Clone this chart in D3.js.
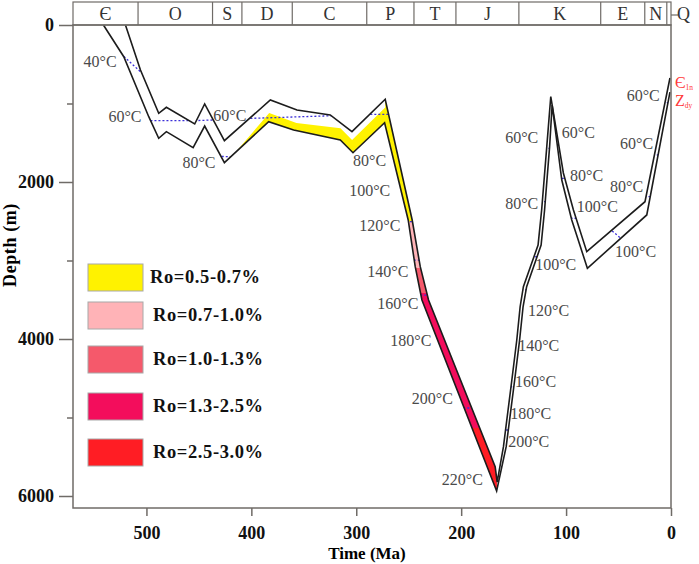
<!DOCTYPE html>
<html>
<head>
<meta charset="utf-8">
<script src="https://cdn.jsdelivr.net/npm/d3@7"></script>
<style>
body { margin: 0; background: #fff; }
text { font-family: "Liberation Serif", "Times New Roman", serif; }
</style>
</head>
<body>
<svg id="chart" width="699" height="564"></svg>
<script>
// geologic periods (Ma)
const periods = ["Є", "O", "S", "D", "C", "P", "T", "J", "K", "E", "N"];
const periodBounds = [570, 508, 437, 409, 361, 290, 245, 205, 145, 67, 25, 4, 0];

// burial history: top of Є1n (lineA) and top of Zdy (lineB), [Ma, m]
const lineA = [[520,0],[505.7,573],[488.3,1125],[481,1048],[454,1261],[444.5,1006],[425.7,1474],
  [381.9,955],[356.5,1083],[324.8,1146],[304.1,1359],[272.4,946],[246.7,2484],[239,3079],
  [231.1,3503],[167.6,5627],[165.7,5822],
  [159.7,5372],[151.7,4522],[147,4013],[143.8,3589],[140.7,3334],[126.7,2803],[123.3,2357],
  [118.4,1550],[114.6,913],[102.6,1885],[93,2357],[80.3,2888],[24.8,2251],[1,675]];
const lineB = [[541,0],[521.6,404],[497.8,1168],[488.3,1443],[481,1359],[455.5,1563],[444.5,1287],
  [425.7,1754],[383.5,1232],[359.7,1338],[315.2,1465],[303.1,1627],[273,1245],[250.5,2484],
  [243.8,3079],[237.4,3503],[166.2,5936],
  [157.1,5372],[149,4522],[144.3,4013],[141,3589],[137.6,3334],[123.8,2803],
  [120.5,2357],[115.7,1550],[113.3,1019],[104.1,1975],[94.6,2484],[79.7,3099],[23.1,2420],[1,854]];

// maturity (Ro) zones
const roLabels = ["Ro=0.5-0.7%", "Ro=0.7-1.0%", "Ro=1.0-1.3%", "Ro=1.3-2.5%", "Ro=2.5-3.0%"];
const roColors = ["#fff200", "#ffb3b7", "#f5596b", "#f30d5c", "#ff1d24"];
const roBase = [2506, 3096, 3414, 5134, 6153];   // lower depth of each zone during Triassic-Jurassic burial
const ro05Top = [[423,1745],[383,1121],[357,1248],[315,1316],[304,1465],[272.4,1050],[272,0],[165.9,0]];
const burialStart = 272.4, burialEnd = 165.9;

// isotherms (blue dotted), [Ma, m]
const isoLines = [
  [[530,300],[523.1,382],[505.7,595],[498,680]],
  [[500,1219],[455,1219],[437,1210],[399,1189],[331,1159],[287,1138],[266,1138]],
  [[432,1672],[418,1680]],
  [[62,2560],[42,2780]]
];
const isoMarks = [[250.5,2506],[243,2994],[233,3440],[192,4879],
  [159.7,5627],[155,5159],[151.1,4608],[146.4,3991],[140.7,3376],[131.1,2952],[122.6,2251],[118.4,1571],
  [108.3,1431],[101.9,1953],[93.6,2462],[23.1,2187],[15.2,1656],[5.7,990]];

// temperature labels [text, Ma at left edge, m at baseline]
const tempLabels = [
  ["40°C",560,535],["60°C",536.2,1242],["60°C",436.2,1229],["80°C",465.7,1822],
  ["80°C",303.1,1790],["100°C",306.7,2178],["120°C",297.1,2618],["140°C",289.5,3210],
  ["160°C",280,3612],["180°C",267.6,4083],["200°C",247,4822],["220°C",218.4,5866],
  ["200°C",155.2,5376],["180°C",153.3,5013],["160°C",148.6,4612],["140°C",145.7,4147],
  ["120°C",136.2,3701],["100°C",129.5,3127],["60°C",158.1,1501],["80°C",158.1,2341],
  ["60°C",104.1,1442],["80°C",96.2,1981],["100°C",89.8,2385],["100°C",53.3,2958],
  ["80°C",58.1,2130],["60°C",48.6,1577],["60°C",42.2,962]
];
const formationLabels = [["Є","1n",-3.8,800],["Z","dy",-3.8,1032]];

const xTicks = [500, 400, 300, 200, 100, 0];
const yTicks = [0, 2000, 4000, 6000];
const yMinor = [1000, 3000, 5000];

const svg = d3.select("#chart");
const x = d3.scaleLinear().domain([570, 0]).range([73, 671]);
const y = d3.scaleLinear().domain([0, 6000]).range([25, 496]);
const bottom = 508, bandTop = 2;
const frameColor = "#6f6b67";

const line = d3.line().x(d => x(d[0])).y(d => y(d[1]));

// band polygon between the two surfaces
const bandPts = lineB.concat(lineA.slice().reverse());
svg.append("clipPath").attr("id", "band")
  .append("path").attr("d", line(bandPts) + "Z");

const zones = svg.append("g").attr("clip-path", "url(#band)");
zones.append("path")
  .attr("d", d3.area().x(d => x(d[0])).y0(d => y(d[1])).y1(y(roBase[0]))(ro05Top))
  .attr("fill", roColors[0]);
for (let i = 1; i < roColors.length; i++) {
  zones.append("path")
    .attr("d", d3.area().x(d => x(d)).y0(y(roBase[i - 1])).y1(y(roBase[i]))([burialStart, burialEnd]))
    .attr("fill", roColors[i]);
}

// isotherms
const iso = svg.append("g").attr("clip-path", "url(#band)")
  .attr("fill", "none").attr("stroke", "#3b2fd8").attr("stroke-width", 1.3)
  .attr("stroke-dasharray", "2,2");
isoLines.forEach(l => iso.append("path").attr("d", line(l)));
isoMarks.forEach(m => iso.append("path").attr("d", line([[m[0] + 6, m[1]], [m[0] - 6, m[1]]])));

// surfaces
[lineA, lineB].forEach(l => {
  svg.append("path").attr("d", line(l))
    .attr("fill", "none").attr("stroke", "#1c1c1c").attr("stroke-width", 1.6)
    .attr("stroke-linejoin", "miter");
});

// frame
svg.append("rect").attr("x", x(570)).attr("y", y(0))
  .attr("width", x(0) - x(570)).attr("height", bottom - y(0))
  .attr("fill", "none").attr("stroke", frameColor).attr("stroke-width", 1.5);

// period band
const band = svg.append("g");
band.append("rect").attr("x", x(570)).attr("y", bandTop)
  .attr("width", x(0) - x(570)).attr("height", y(0) - bandTop)
  .attr("fill", "none").attr("stroke", frameColor).attr("stroke-width", 1.2);
periodBounds.slice(1, -1).forEach(b => {
  band.append("line").attr("x1", x(b)).attr("x2", x(b))
    .attr("y1", bandTop).attr("y2", y(0))
    .attr("stroke", frameColor).attr("stroke-width", 1.2);
});
periods.forEach((p, i) => {
  band.append("text")
    .attr("x", (x(periodBounds[i]) + x(periodBounds[i + 1])) / 2)
    .attr("y", 20).attr("text-anchor", "middle")
    .attr("font-size", 18).attr("fill", "#333").text(p);
});
band.append("line").attr("x1", x(0)).attr("x2", x(0) + 7).attr("y1", 15).attr("y2", 15)
  .attr("stroke", frameColor).attr("stroke-width", 1.2);
band.append("text").attr("x", x(0) + 6).attr("y", 20)
  .attr("font-size", 18).attr("fill", "#333").text("Q");

// axes
const xAxis = svg.append("g").attr("transform", `translate(0,${bottom})`)
  .call(d3.axisBottom(x).tickValues(xTicks).tickSize(8).tickSizeOuter(0).tickPadding(10));
const yAxis = svg.append("g").attr("transform", `translate(${x(570)},0)`)
  .call(d3.axisLeft(y).tickValues(yTicks).tickFormat(d3.format("d"))
    .tickSize(14).tickSizeOuter(0).tickPadding(5));
const yAxisMinor = svg.append("g").attr("transform", `translate(${x(570)},0)`)
  .call(d3.axisLeft(y).tickValues(yMinor).tickSize(6).tickSizeOuter(0).tickFormat(""));
[xAxis, yAxis, yAxisMinor].forEach(g => {
  g.select(".domain").remove();
  g.selectAll(".tick line").attr("stroke", frameColor).attr("stroke-width", 1.5);
  g.selectAll("text").attr("font-family", "Liberation Serif").attr("font-weight", "bold")
    .attr("font-size", 18).attr("fill", "#111");
});

svg.append("text").attr("x", 367).attr("y", 559).attr("text-anchor", "middle")
  .attr("font-weight", "bold").attr("font-size", 17).text("Time (Ma)");
svg.append("text").attr("transform", "translate(16,245) rotate(-90)")
  .attr("text-anchor", "middle").attr("font-weight", "bold").attr("font-size", 18)
  .attr("letter-spacing", 0.6).text("Depth (m)");

// temperature labels
svg.append("g").selectAll("text").data(tempLabels).join("text")
  .attr("x", d => x(d[1])).attr("y", d => y(d[2]))
  .attr("font-size", 16).attr("fill", "#4a4a4a").text(d => d[0]);

// formation labels
formationLabels.forEach(f => {
  const t = svg.append("text").attr("x", x(f[2])).attr("y", y(f[3]))
    .attr("font-size", 16).attr("fill", "#ff3a3a");
  t.append("tspan").text(f[0]);
  t.append("tspan").attr("font-size", 7.5).attr("dy", 2).text(f[1]);
});

// legend
const legendY = [264, 302, 346, 393, 439];
const legend = svg.append("g");
roLabels.forEach((lab, i) => {
  legend.append("rect").attr("x", 88).attr("y", legendY[i]).attr("width", 55).attr("height", 27)
    .attr("fill", roColors[i]).attr("stroke", "#a8a8a8").attr("stroke-width", 1);
  legend.append("text").attr("x", i === 0 ? 150 : 153).attr("y", legendY[i] + 19)
    .attr("font-weight", "bold").attr("font-size", 18.5).attr("letter-spacing", 0.6)
    .attr("fill", "#111").text(lab);
});
</script>
</body>
</html>
